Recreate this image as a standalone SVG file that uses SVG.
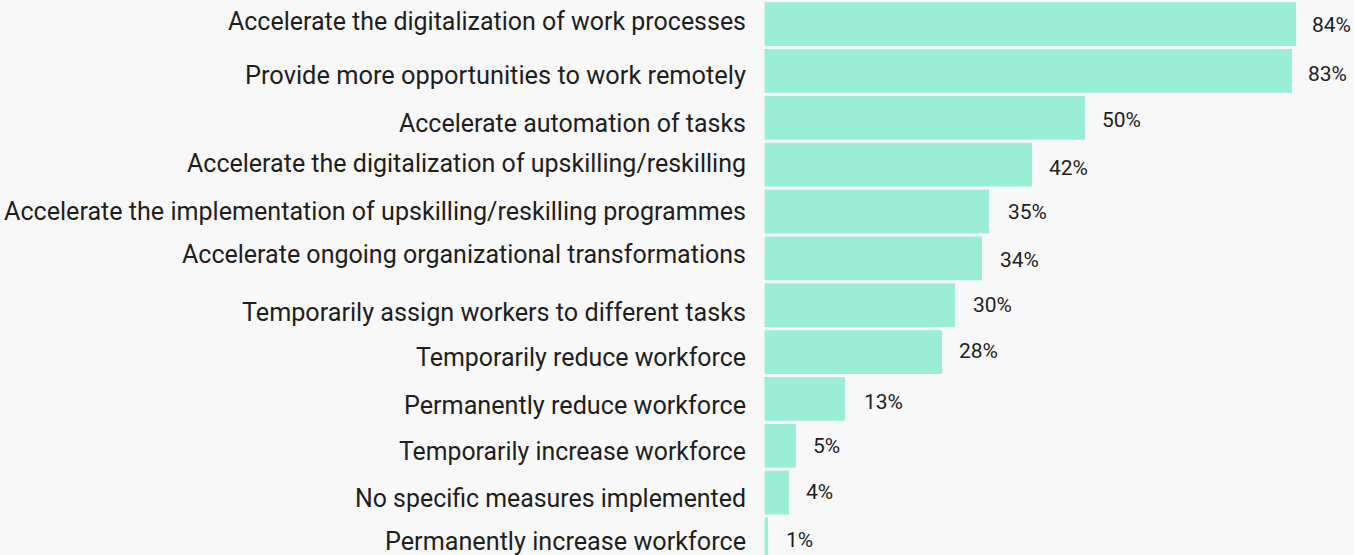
<svg xmlns="http://www.w3.org/2000/svg" width="1354" height="555" viewBox="0 0 1354 555">
<style>
.bg{fill:#f8f8f8}
.bar{fill:#99eed5}
.cat{font-family:Roboto,"Liberation Sans",sans-serif;font-size:25.5px;fill:#1e1e1e;text-anchor:end}
.val{font-family:Roboto,"Liberation Sans",sans-serif;font-size:21px;fill:#1e1e1e}
</style>
<rect class="bg" x="0" y="0" width="1354" height="555"/>
<g id="row1">
<rect class="bar" x="764.5" y="2.2" width="531.5" height="43.8"/>
<text class="cat" x="746" y="30" textLength="518" lengthAdjust="spacingAndGlyphs">Accelerate the digitalization of work processes</text>
<text class="val" x="1312" y="32">84%</text>
</g>
<g id="row2">
<rect class="bar" x="764.5" y="49" width="527.5" height="43.8"/>
<text class="cat" x="746" y="84" textLength="501" lengthAdjust="spacingAndGlyphs">Provide more opportunities to work remotely</text>
<text class="val" x="1308" y="81">83%</text>
</g>
<g id="row3">
<rect class="bar" x="764.5" y="95.9" width="320.5" height="43.8"/>
<text class="cat" x="746" y="132" textLength="347" lengthAdjust="spacingAndGlyphs">Accelerate automation of tasks</text>
<text class="val" x="1102" y="127">50%</text>
</g>
<g id="row4">
<rect class="bar" x="764.5" y="142.8" width="267.5" height="43.8"/>
<text class="cat" x="746" y="172" textLength="559" lengthAdjust="spacingAndGlyphs">Accelerate the digitalization of upskilling/reskilling</text>
<text class="val" x="1049" y="175">42%</text>
</g>
<g id="row5">
<rect class="bar" x="764.5" y="189.6" width="224.5" height="43.8"/>
<text class="cat" x="746" y="219.5" textLength="742" lengthAdjust="spacingAndGlyphs">Accelerate the implementation of upskilling/reskilling programmes</text>
<text class="val" x="1008" y="219">35%</text>
</g>
<g id="row6">
<rect class="bar" x="764.5" y="236.5" width="217.5" height="43.8"/>
<text class="cat" x="746" y="263.3" textLength="564" lengthAdjust="spacingAndGlyphs">Accelerate ongoing organizational transformations</text>
<text class="val" x="1000" y="267">34%</text>
</g>
<g id="row7">
<rect class="bar" x="764.5" y="283.3" width="190.5" height="43.8"/>
<text class="cat" x="746" y="321" textLength="504" lengthAdjust="spacingAndGlyphs">Temporarily assign workers to different tasks</text>
<text class="val" x="973" y="312">30%</text>
</g>
<g id="row8">
<rect class="bar" x="764.5" y="330.2" width="177.5" height="43.8"/>
<text class="cat" x="746" y="366" textLength="330" lengthAdjust="spacingAndGlyphs">Temporarily reduce workforce</text>
<text class="val" x="959" y="358">28%</text>
</g>
<g id="row9">
<rect class="bar" x="764.5" y="377" width="80.5" height="43.8"/>
<text class="cat" x="746" y="414" textLength="342" lengthAdjust="spacingAndGlyphs">Permanently reduce workforce</text>
<text class="val" x="864" y="409">13%</text>
</g>
<g id="row10">
<rect class="bar" x="764.5" y="423.9" width="31.5" height="43.8"/>
<text class="cat" x="746" y="460" textLength="347" lengthAdjust="spacingAndGlyphs">Temporarily increase workforce</text>
<text class="val" x="813" y="453">5%</text>
</g>
<g id="row11">
<rect class="bar" x="764.5" y="470.7" width="24.5" height="43.8"/>
<text class="cat" x="746" y="507" textLength="391" lengthAdjust="spacingAndGlyphs">No specific measures implemented</text>
<text class="val" x="806" y="499">4%</text>
</g>
<g id="row12">
<rect class="bar" x="764.5" y="517.6" width="3.5" height="43.8"/>
<text class="cat" x="746" y="549.5" textLength="361" lengthAdjust="spacingAndGlyphs">Permanently increase workforce</text>
<text class="val" x="786" y="547">1%</text>
</g>
</svg>
